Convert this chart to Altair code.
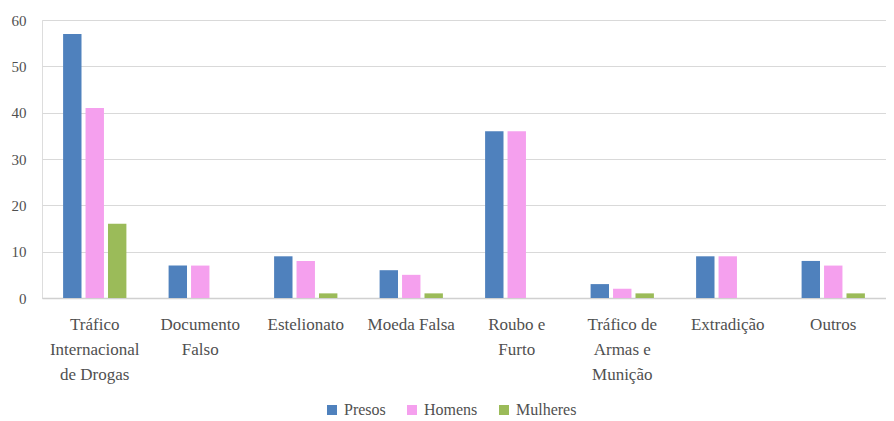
import altair as alt
import pandas as pd

categories = [
    "Tráfico\nInternacional\nde Drogas",
    "Documento\nFalso",
    "Estelionato",
    "Moeda Falsa",
    "Roubo e\nFurto",
    "Tráfico de\nArmas e\nMunição",
    "Extradição",
    "Outros",
]
series = ["Presos", "Homens", "Mulheres"]
presos = [57, 7, 9, 6, 36, 3, 9, 8]
homens = [41, 7, 8, 5, 36, 2, 9, 7]
mulheres = [16, 0, 1, 1, 0, 1, 0, 1]
colors = ["#4f81bd", "#f5a0ee", "#9bbb59"]

rows = []
for i, c in enumerate(categories):
    for s, vals in zip(series, [presos, homens, mulheres]):
        rows.append({"cat": c, "serie": s, "valor": vals[i]})
df = pd.DataFrame(rows)

FONT = "Liberation Serif"
GREY = "#505050"

chart = (
    alt.Chart(df)
    .mark_bar()
    .encode(
        x=alt.X(
            "cat:N",
            sort=categories,
            title=None,
            scale=alt.Scale(paddingInner=0.4, paddingOuter=0.2),
            axis=alt.Axis(
                labelAngle=0,
                labelExpr="split(datum.label, '\\n')",
                labelLineHeight=25,
                labelPadding=18,
                labelFontSize=17,
                labelColor=GREY,
                labelFont=FONT,
                ticks=False,
                domainColor="#d0d0d0",
                domainWidth=1.5,
                labelLimit=0,
                labelBaseline="top",
            ),
        ),
        xOffset=alt.XOffset(
            "serie:N", sort=series, scale=alt.Scale(paddingInner=0.18)
        ),
        y=alt.Y(
            "valor:Q",
            title=None,
            scale=alt.Scale(domain=[0, 60]),
            axis=alt.Axis(
                values=[0, 10, 20, 30, 40, 50, 60],
                domain=False,
                ticks=False,
                labelPadding=16,
                labelFontSize=15,
                labelColor=GREY,
                labelFont=FONT,
                gridColor="#d9d9d9",
                gridWidth=1.2,
            ),
        ),
        color=alt.Color(
            "serie:N",
            sort=series,
            scale=alt.Scale(domain=series, range=colors),
            legend=alt.Legend(
                title=None,
                orient="none",
                legendX=282,
                legendY=382,
                direction="horizontal",
                symbolType="square",
                symbolSize=100,
                symbolStrokeWidth=0,
                labelFontSize=16,
                labelFont=FONT,
                labelColor=GREY,
                columnPadding=18,
            ),
        ),
    )
    .properties(
        width=844,
        height=278,
        autosize=alt.AutoSizeParams(type="none"),
        padding={"left": 34, "top": 12, "right": 0, "bottom": 123},
    )
    .configure_view(stroke=None)
    .configure(background="white", font=FONT)
)

chart.save("out.html", embed_options={"renderer": "svg", "actions": False})
